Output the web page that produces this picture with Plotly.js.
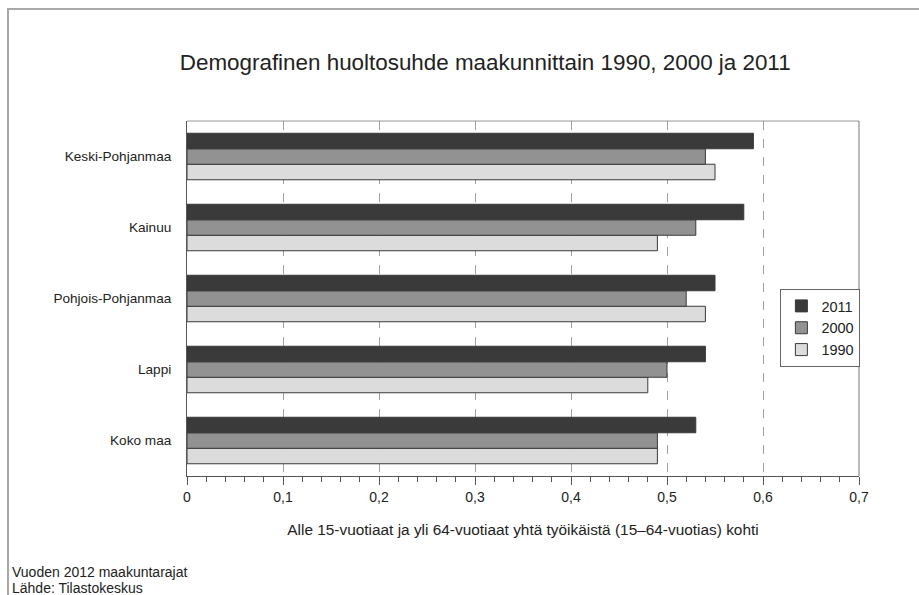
<!DOCTYPE html>
<html>
<head>
<meta charset="utf-8">
<script src="https://cdn.plot.ly/plotly-3.0.1.min.js"></script>
<style>
  html, body { margin: 0; padding: 0; background: #fff; }
  #wrap { position: relative; width: 919px; height: 595px; overflow: hidden; }
  #chart { position: absolute; left: 0; top: 0; width: 919px; height: 595px; }
  #frame { position: absolute; left: 7px; top: 8px; width: 930px; height: 620px;
           border-left: 2px solid #a8a8a8; border-top: 2px solid #a8a8a8; pointer-events: none; }
</style>
</head>
<body>
<div id="wrap">
  <div id="chart"></div>
  <div id="frame"></div>
</div>
<script>
// Categories listed bottom to top
const regions = ['Koko maa', 'Lappi', 'Pohjois-Pohjanmaa', 'Kainuu', 'Keski-Pohjanmaa'];
const v1990 = [0.49, 0.48, 0.54, 0.49, 0.55];
const v2000 = [0.49, 0.50, 0.52, 0.53, 0.54];
const v2011 = [0.53, 0.54, 0.55, 0.58, 0.59];
const seriesNames = ['1990', '2000', '2011'];
const seriesColors = ['#dcdcdc', '#929292', '#3a3a3a'];
const seriesData = [v1990, v2000, v2011];

const traces = seriesData.map((vals, i) => ({
  type: 'bar',
  orientation: 'h',
  name: seriesNames[i],
  y: regions,
  x: vals,
  marker: { color: seriesColors[i], line: { color: '#3a3a3a', width: 1 } },
  hoverinfo: 'x+y'
}));

const font = 'Liberation Sans, Arial, sans-serif';
const layout = {
  width: 919, height: 595,
  margin: { l: 187, r: 60, t: 121, b: 119 },
  paper_bgcolor: '#fff', plot_bgcolor: '#fff',
  separators: ', ',
  font: { family: font, size: 14, color: '#222' },
  title: {
    text: 'Demografinen huoltosuhde maakunnittain 1990, 2000 ja 2011',
    font: { family: font, size: 22.4, color: '#222' },
    x: 0.528, xanchor: 'center', y: 0.896, yanchor: 'middle'
  },
  barmode: 'group',
  bargap: 0.345,
  bargroupgap: 0,
  xaxis: {
    range: [0, 0.7], dtick: 0.1, tick0: 0,
    showgrid: true, gridcolor: '#a0a0a0', griddash: 'dash', gridwidth: 1,
    zeroline: false,
    showline: true, linecolor: '#555', linewidth: 1, mirror: false,
    ticks: 'outside', ticklen: 8, tickcolor: '#555',
    minor: { dtick: 0.02, ticks: 'outside', ticklen: 5, tickcolor: '#555', tickwidth: 1, showgrid: false },
    tickfont: { family: font, size: 14, color: '#222' },
    title: { text: 'Alle 15-vuotiaat ja yli 64-vuotiaat yhtä työikäistä (15–64-vuotias) kohti',
             font: { family: font, size: 15.4, color: '#222' }, standoff: 20 }
  },
  yaxis: {
    categoryorder: 'array', categoryarray: regions,
    showgrid: false, zeroline: false,
    showline: true, linecolor: '#555', linewidth: 1,
    ticks: '', ticklabelstandoff: 12,
    tickfont: { family: font, size: 13.6, color: '#222' }
  },
  shapes: [
    { type: 'line', xref: 'paper', yref: 'paper', x0: 0, x1: 1, y0: 1, y1: 1,
      line: { color: '#9a9a9a', width: 1 } },
    { type: 'line', xref: 'paper', yref: 'paper', x0: 1, x1: 1, y0: 0, y1: 1,
      line: { color: '#777', width: 1 } }
  ],
  legend: {
    x: 0.883, y: 0.417, xanchor: 'left', yanchor: 'middle',
    traceorder: 'reversed',
    bgcolor: '#fff', bordercolor: '#666', borderwidth: 1,
    font: { family: font, size: 14.5, color: '#222' },
    itemwidth: 30, tracegroupgap: 0
  },
  annotations: [
    { text: 'Vuoden 2012 maakuntarajat', xref: 'paper', yref: 'paper',
      x: -177/672, y: -96/355, xanchor: 'left', yanchor: 'middle', showarrow: false,
      font: { family: font, size: 14, color: '#222' } },
    { text: 'Lähde: Tilastokeskus', xref: 'paper', yref: 'paper',
      x: -177/672, y: -112/355, xanchor: 'left', yanchor: 'middle', showarrow: false,
      font: { family: font, size: 14, color: '#222' } }
  ],
  showlegend: true
};

Plotly.newPlot('chart', traces, layout, { displayModeBar: false, staticPlot: true });
</script>
</body>
</html>
